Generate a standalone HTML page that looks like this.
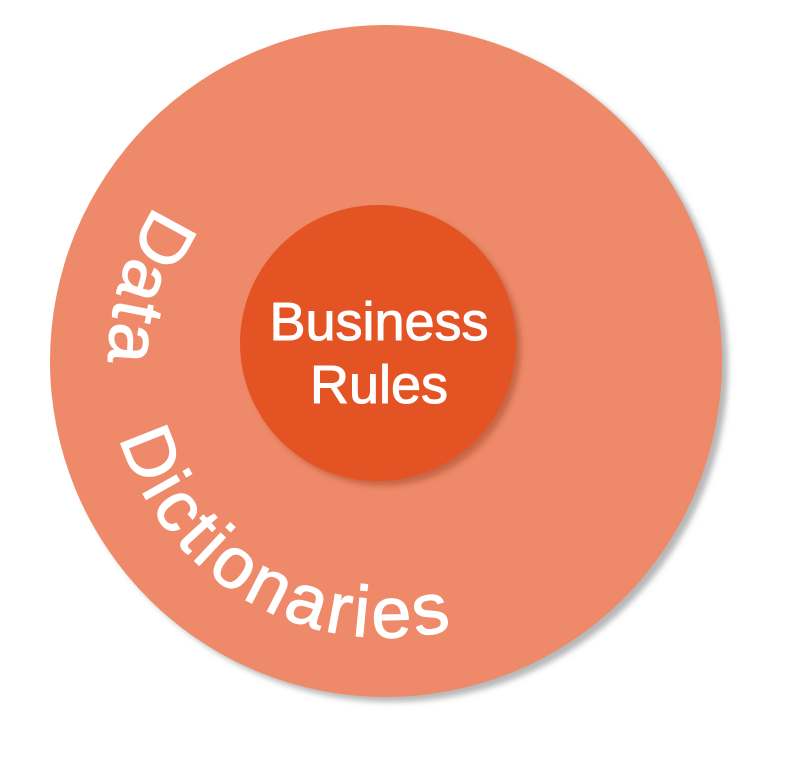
<!DOCTYPE html>
<html><head><meta charset="utf-8"><style>
html,body{margin:0;padding:0;background:#fff;width:792px;height:768px;overflow:hidden}
</style></head><body>
<svg width="792" height="768" viewBox="0 0 792 768" xmlns="http://www.w3.org/2000/svg">
<defs>
<filter id="bl" x="-10%" y="-10%" width="120%" height="120%"><feGaussianBlur stdDeviation="3"/></filter>
<path id="arc" d="M 156 206 A 277 277 0 0 0 576 562" fill="none"/>
</defs>
<circle cx="392" cy="366" r="336" fill="#b8b8b8" filter="url(#bl)"/>
<circle cx="386" cy="361" r="336" fill="#ee8a69"/>
<circle cx="383" cy="348" r="138" fill="#a84a2c" opacity="0.55" filter="url(#bl)"/>
<circle cx="378" cy="343" r="138" fill="#e35324"/>
<text font-family="Liberation Sans, sans-serif" font-size="72" fill="#fff" stroke="#fff" stroke-width="1.2" xml:space="preserve">
<textPath href="#arc" textLength="665" lengthAdjust="spacing">Data   Dictionaries</textPath>
</text>
<g font-family="Liberation Sans, sans-serif" font-size="54" fill="#fff" stroke="#fff" stroke-width="1" text-anchor="middle">
<text x="379" y="340">Business</text>
<text x="379" y="403">Rules</text>
</g>
</svg>
</body></html>
